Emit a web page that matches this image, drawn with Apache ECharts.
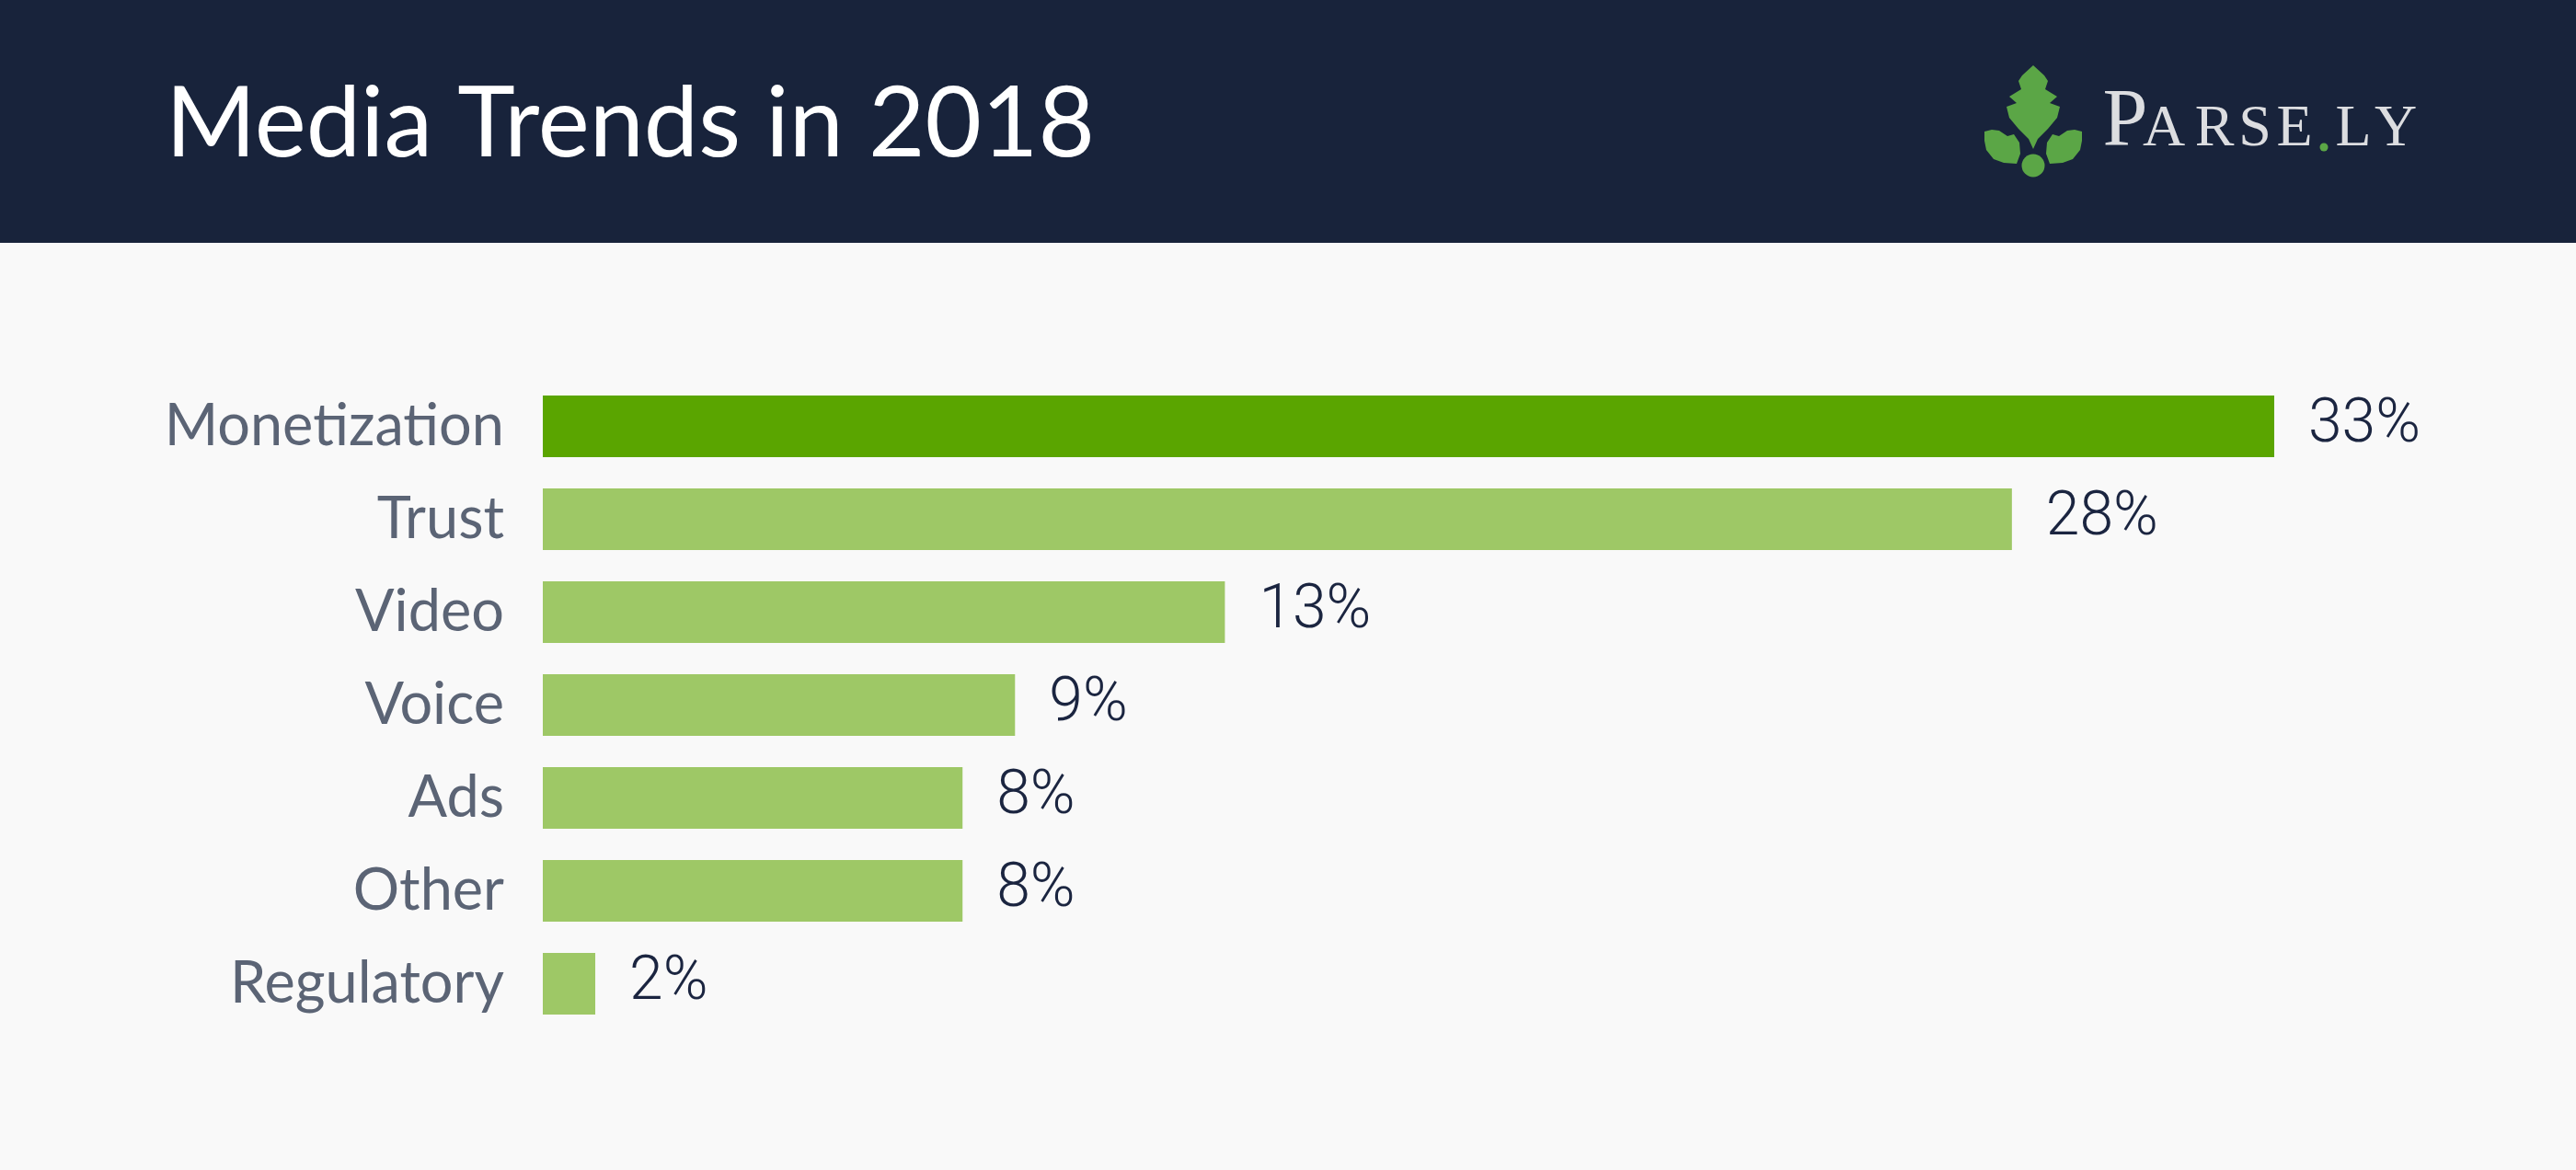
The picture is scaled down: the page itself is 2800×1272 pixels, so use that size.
<!DOCTYPE html>
<html>
<head>
<meta charset="utf-8">
<script src="https://cdn.jsdelivr.net/npm/echarts@6/dist/echarts.min.js"></script>
<style>
html,body{margin:0;padding:0;background:#F9F9F9;}
#main{width:2800px;height:1272px;}
</style>
</head>
<body>
<div id="main"></div>
<script>
const titleText = 'Media Trends in 2018';
const categories = ['Monetization', 'Trust', 'Video', 'Voice', 'Ads', 'Other', 'Regulatory'];
const barValues = [33, 28, 13, 9, 8, 8, 1];
const valueLabels = ['33%', '28%', '13%', '9%', '8%', '8%', '2%'];
const highlightIndex = 0;

const chart = echarts.init(document.getElementById('main'), null, {renderer: 'canvas'});

const leafGreen = '#5BA646';
function mirror(pts) { return pts.map(p => [4420 - p[0], p[1]]); }
const centerLeaf = [[2210,71],[2222,82],[2226,88],[2223,97],[2236,105],[2228,112],[2239,116],[2236,128],[2226,140],[2215,151],[2210,162],[2205,151],[2194,140],[2184,128],[2181,116],[2192,112],[2184,105],[2197,97],[2194,88],[2198,82]];
const sideLeaf = [[2157,143],[2165,141],[2173,142],[2182,148],[2189,146],[2195,155],[2196,167],[2192,178],[2178,177],[2167,173],[2159,163],[2157,153]];

const logoLetters = [
  {t:'P', x:2310, size:88, y:134},
  {t:'A', x:2352, size:64, y:141},
  {t:'R', x:2407, size:64, y:141},
  {t:'S', x:2451, size:64, y:141},
  {t:'E', x:2494, size:64, y:141},
  {t:'L', x:2558, size:64, y:141},
  {t:'Y', x:2604, size:64, y:141}
];

const graphics = [
  {type:'rect', shape:{x:0,y:0,width:2800,height:264}, style:{fill:'#18233B'}, z:0},
  {type:'text', x:180, y:136, style:{text:titleText, fill:'#FFFFFF', font:'400 106px Lato, "Noto Sans", sans-serif', textVerticalAlign:'middle', textAlign:'left'}, z:1},
  {type:'polygon', shape:{points:centerLeaf}, style:{fill:leafGreen}, z:1},
  {type:'polygon', shape:{points:sideLeaf}, style:{fill:leafGreen}, z:1},
  {type:'polygon', shape:{points:mirror(sideLeaf)}, style:{fill:leafGreen}, z:1},
  {type:'circle', shape:{cx:2210, cy:180, r:12.5}, style:{fill:leafGreen}, z:1},
  {type:'circle', shape:{cx:2526, cy:160, r:4.5}, style:{fill:leafGreen}, z:1}
];
logoLetters.forEach(l => {
  graphics.push({type:'text', x:l.x, y:l.y, style:{text:l.t, fill:'#DCDDE0', font:'400 ' + l.size + 'px "Liberation Serif", "DejaVu Serif", serif', textVerticalAlign:'middle', textAlign:'center'}, z:1});
});

const option = {
  backgroundColor: '#F9F9F9',
  animation: false,
  graphic: graphics,
  grid: {left: 590, right: 328, top: 413, height: 707, containLabel: false},
  xAxis: {type:'value', min:0, max:33, show:false},
  yAxis: {
    type:'category', data: categories, inverse: true,
    axisLine:{show:false}, axisTick:{show:false}, splitLine:{show:false},
    axisLabel:{color:'#5B6475', fontSize:63, fontFamily:'Lato, "Noto Sans", sans-serif', margin:42}
  },
  series: [{
    type:'bar', barWidth:67,
    data: barValues.map((v, i) => ({value: v, itemStyle: {color: i === highlightIndex ? '#5AA500' : '#9EC866'}})),
    label: {
      show:true, position:'right', distance:37,
      formatter: p => valueLabels[p.dataIndex],
      color:'#1B2540', fontSize:66, fontWeight:300, fontFamily:'Roboto, sans-serif'
    }
  }]
};
chart.setOption(option);
</script>
</body>
</html>
